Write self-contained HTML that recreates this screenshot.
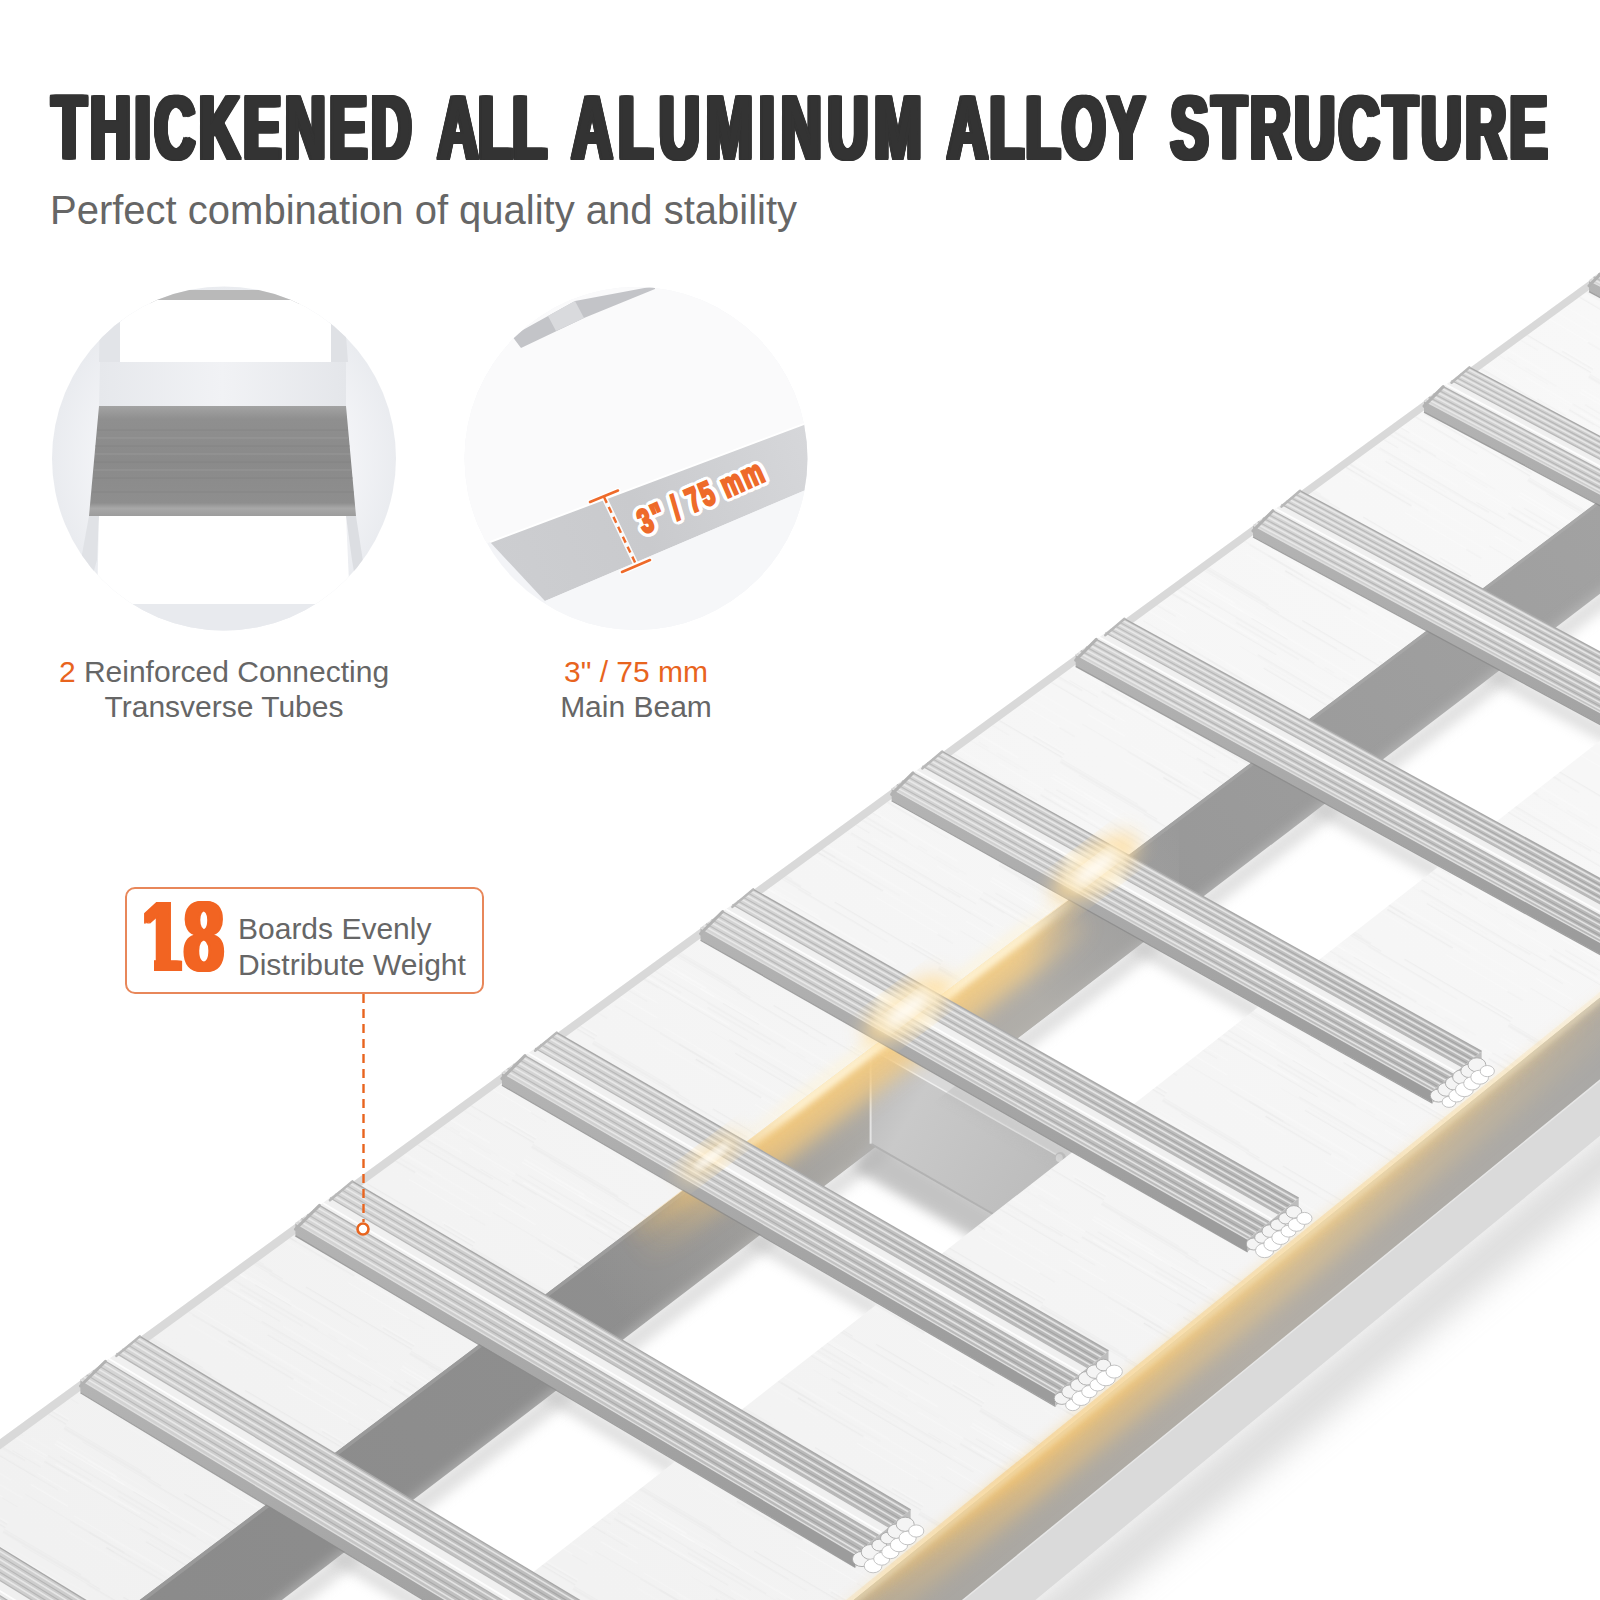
<!DOCTYPE html>
<html><head><meta charset="utf-8"><title>Thickened All Aluminum Alloy Structure</title>
<style>
html,body{margin:0;padding:0;background:#fff;}
body{width:1600px;height:1600px;position:relative;overflow:hidden;font-family:"Liberation Sans",sans-serif;}
svg{position:absolute;left:0;top:0;}
.t{position:absolute;white-space:nowrap;}
#title{left:52px;top:78px;font-weight:bold;font-size:90px;line-height:100px;color:#333;transform-origin:0 0;transform:scaleX(0.6207);letter-spacing:5.5px;word-spacing:10px;text-shadow:4.5px 0.9px #333,4.5px 0px #333,4.5px -0.9px #333,2.25px 0.9px #333,2.25px 0px #333,2.25px -0.9px #333,0px 0.9px #333,0px -0.9px #333,-2.25px 0.9px #333,-2.25px 0px #333,-2.25px -0.9px #333,-4.5px 0.9px #333,-4.5px 0px #333,-4.5px -0.9px #333;}
#sub{left:50px;top:186px;font-size:40px;line-height:48px;color:#666;}
.lab{font-size:30px;line-height:35px;color:#666;text-align:center;}
.o{color:#e8641e;}
#box{position:absolute;left:125px;top:887px;width:355px;height:103px;border:2.5px solid #e8875a;border-radius:10px;background:#fff;}
#n18{left:141.5px;top:884px;font-weight:bold;font-size:101px;line-height:104px;color:#f26422;transform-origin:0 0;transform:scaleX(0.70);letter-spacing:4px;text-shadow:4px 0 #f26422,2px 0 #f26422,-2px 0 #f26422,-4px 0 #f26422;}
#dim{left:644px;top:505.2px;font-weight:bold;font-size:34px;line-height:34px;letter-spacing:2.5px;color:#ee6a2a;-webkit-text-stroke:2.6px #ee6a2a;transform-origin:0 28.8px;transform:rotate(-23.6deg) scaleX(0.69);text-shadow:6.67px 0.00px #fff,6.34px 1.42px #fff,5.39px 2.70px #fff,3.92px 3.72px #fff,2.06px 4.37px #fff,0.00px 4.60px #fff,-2.06px 4.37px #fff,-3.92px 3.72px #fff,-5.39px 2.70px #fff,-6.34px 1.42px #fff,-6.67px 0.00px #fff,-6.34px -1.42px #fff,-5.39px -2.70px #fff,-3.92px -3.72px #fff,-2.06px -4.37px #fff,-0.00px -4.60px #fff,2.06px -4.37px #fff,3.92px -3.72px #fff,5.39px -2.70px #fff,6.34px -1.42px #fff,3.77px 0.00px #fff,3.05px 1.53px #fff,1.16px 2.47px #fff,-1.16px 2.47px #fff,-3.05px 1.53px #fff,-3.77px 0.00px #fff,-3.05px -1.53px #fff,-1.16px -2.47px #fff,1.16px -2.47px #fff,3.05px -1.53px #fff;}
#b18{left:238px;top:911px;font-size:30px;line-height:35.5px;color:#666;}
</style></head><body>
<svg width="1600" height="1600" viewBox="0 0 1600 1600">

<defs>
<linearGradient id="gTopL" gradientUnits="userSpaceOnUse" x1="0" y1="1500" x2="1600" y2="300"><stop offset="0" stop-color="#f1f1f1"/><stop offset="0.5" stop-color="#f5f5f5"/><stop offset="1" stop-color="#f8f8f8"/></linearGradient>
<linearGradient id="gTopR" gradientUnits="userSpaceOnUse" x1="600" y1="1600" x2="1600" y2="800"><stop offset="0" stop-color="#f2f2f2"/><stop offset="1" stop-color="#f7f7f7"/></linearGradient>
<linearGradient id="gIn" gradientUnits="userSpaceOnUse" x1="0" y1="1600" x2="1600" y2="500"><stop offset="0" stop-color="#8a8a8a"/><stop offset="0.45" stop-color="#909090"/><stop offset="1" stop-color="#a2a2a2"/></linearGradient>
<linearGradient id="gOut" gradientUnits="userSpaceOnUse" x1="850" y1="1600" x2="1600" y2="1000"><stop offset="0" stop-color="#a7a5a1"/><stop offset="0.5" stop-color="#b3aea6"/><stop offset="1" stop-color="#a9a8a6"/></linearGradient>
<linearGradient id="gGlowR" gradientUnits="userSpaceOnUse" x1="850" y1="1600" x2="1600" y2="1000"><stop offset="0" stop-color="#f3c473" stop-opacity="0.3"/><stop offset="0.22" stop-color="#f3c473" stop-opacity="1"/><stop offset="0.6" stop-color="#f4cd86" stop-opacity="0.8"/><stop offset="1" stop-color="#f4cd86" stop-opacity="0.15"/></linearGradient>
<linearGradient id="gBar" gradientUnits="userSpaceOnUse" x1="500" y1="1075" x2="807" y2="1496"><stop offset="0" stop-color="#d5d5d5"/><stop offset="0.45" stop-color="#c9c9c9"/><stop offset="1" stop-color="#b8b8b8"/></linearGradient>
<linearGradient id="gBarS" gradientUnits="userSpaceOnUse" x1="500" y1="1075" x2="807" y2="1496"><stop offset="0" stop-color="#b4b4b4"/><stop offset="1" stop-color="#9c9c9c"/></linearGradient>
<linearGradient id="gGrv" gradientUnits="userSpaceOnUse" x1="500" y1="1075" x2="807" y2="1496"><stop offset="0" stop-color="#bcbcbc"/><stop offset="1" stop-color="#a4a4a4"/></linearGradient>
<filter id="b3" x="-20%" y="-20%" width="140%" height="140%"><feGaussianBlur stdDeviation="3"/></filter>
<filter id="b6" x="-20%" y="-20%" width="140%" height="140%"><feGaussianBlur stdDeviation="6"/></filter>
<filter id="b10" x="-20%" y="-20%" width="140%" height="140%"><feGaussianBlur stdDeviation="10"/></filter>
<filter id="b16" x="-30%" y="-30%" width="160%" height="160%"><feGaussianBlur stdDeviation="16"/></filter>
</defs>
<polygon points="179.5,2303.7 2354.2,515.8 2354.2,566.1 179.5,2366.9" fill="#bdbdbd" filter="url(#b16)" opacity="0.55"/>
<polygon points="179.5,2143.7 2354.2,388.4 2354.2,464.7 179.5,2239.5" fill="url(#gOut)" />
<polygon points="179.5,2239.5 2354.2,464.7 2354.2,515.8 179.5,2303.7" fill="#dadada" />
<line x1="179.5" y1="2239.5" x2="2354.2" y2="464.7" stroke="#e6e6e6" stroke-width="1.50" />
<polygon points="-234.5,1881.5 1992.9,203.7 1992.9,293.7 -234.5,1994.3" fill="url(#gIn)" />
<polygon points="-234.5,1881.5 1992.9,203.7 1992.9,207.8 -234.5,1886.7" fill="#b4b4b4" opacity="0.35"/>
<polygon points="-234.5,1990.1 1992.9,290.4 1992.9,311.9 -234.5,2017.0" fill="#c8c8c8" filter="url(#b6)" opacity="0.55"/>
<linearGradient id="gLit" gradientUnits="userSpaceOnUse" x1="582" y1="1266" x2="1179" y2="817"><stop offset="0" stop-color="#b6b3ad" stop-opacity="0"/><stop offset="0.45" stop-color="#b6b3ad" stop-opacity="0.8"/><stop offset="0.7" stop-color="#b6b3ad" stop-opacity="0.8"/><stop offset="1" stop-color="#b0b0b0" stop-opacity="0"/></linearGradient>
<polygon points="582.2,1266.3 1179.1,816.7 1179.1,915.0 582.2,1370.7" fill="url(#gLit)" />
<polygon points="872.3,1137.2 1065.0,1247.7 1045.9,1279.7 852.9,1168.7" fill="#b0b0b0" filter="url(#b6)" opacity="0.75"/>
<linearGradient id="gTube" gradientUnits="userSpaceOnUse" x1="871" y1="1049" x2="1065" y2="1160"><stop offset="0" stop-color="#b6b6b6"/><stop offset="0.3" stop-color="#c9c9c9"/><stop offset="1" stop-color="#bcbcbc"/></linearGradient>
<polygon points="870.6,1048.7 1065.0,1159.6 1065.0,1255.3 870.6,1143.7" fill="url(#gTube)" />
<line x1="870.6" y1="1143.7" x2="1065.0" y2="1255.3" stroke="#b2b2b2" stroke-width="2.00" />
<line x1="870.6" y1="1048.7" x2="870.6" y2="1143.7" stroke="#e4e4e4" stroke-width="2.00" />
<polygon points="870.6,1048.7 1065.0,1159.6 1076.5,1150.6 882.2,1040.0" fill="#d9d9d9" />
<line x1="870.6" y1="1048.7" x2="1065.0" y2="1159.6" stroke="#efefef" stroke-width="1.50" />
<ellipse cx="1060.3" cy="1159.9" rx="6" ry="8" fill="#bdbdbd"/>
<ellipse cx="1059.3" cy="1157.9" rx="3.5" ry="4" fill="#dcdcdc"/>
<polygon points="-433.8,1755.3 1818.0,114.2 1992.9,203.7 -234.5,1881.5" fill="url(#gTopL)" />
<polygon points="-433.8,1755.3 1818.0,114.2 1825.0,117.8 -425.9,1760.3" fill="#d9d9d9" />
<polygon points="-29.9,2011.1 2171.7,295.1 2354.2,388.4 179.5,2143.7" fill="url(#gTopR)" />
<pattern id="brush" width="260" height="120" patternUnits="userSpaceOnUse" patternTransform="rotate(30.5)"><line x1="128" y1="54.3" x2="288" y2="54.3" stroke="#d8d8d8" stroke-width="1.1" opacity="0.29"/><line x1="201" y1="22.8" x2="303" y2="22.8" stroke="#d2d2d2" stroke-width="1.3" opacity="0.14"/><line x1="-13" y1="36.4" x2="132" y2="36.4" stroke="#dedede" stroke-width="1.2" opacity="0.24"/><line x1="96" y1="47.5" x2="232" y2="47.5" stroke="#dedede" stroke-width="0.8" opacity="0.12"/><line x1="-22" y1="63.4" x2="43" y2="63.4" stroke="#fff" stroke-width="1.2" opacity="0.28"/><line x1="137" y1="39.2" x2="203" y2="39.2" stroke="#fff" stroke-width="1.2" opacity="0.22"/><line x1="97" y1="79.5" x2="173" y2="79.5" stroke="#d2d2d2" stroke-width="1.5" opacity="0.29"/><line x1="55" y1="84.9" x2="124" y2="84.9" stroke="#fff" stroke-width="0.7" opacity="0.23"/><line x1="-8" y1="13.0" x2="70" y2="13.0" stroke="#fff" stroke-width="1.5" opacity="0.29"/><line x1="23" y1="0.1" x2="181" y2="0.1" stroke="#d8d8d8" stroke-width="1.0" opacity="0.26"/><line x1="130" y1="50.4" x2="196" y2="50.4" stroke="#dedede" stroke-width="0.9" opacity="0.14"/><line x1="249" y1="39.9" x2="388" y2="39.9" stroke="#fff" stroke-width="0.8" opacity="0.26"/><line x1="99" y1="1.3" x2="203" y2="1.3" stroke="#dedede" stroke-width="1.1" opacity="0.21"/><line x1="180" y1="22.9" x2="237" y2="22.9" stroke="#dedede" stroke-width="1.0" opacity="0.20"/><line x1="-40" y1="118.8" x2="113" y2="118.8" stroke="#d2d2d2" stroke-width="0.9" opacity="0.30"/><line x1="78" y1="25.3" x2="229" y2="25.3" stroke="#dedede" stroke-width="1.2" opacity="0.13"/><line x1="92" y1="17.6" x2="134" y2="17.6" stroke="#d2d2d2" stroke-width="1.0" opacity="0.18"/><line x1="-13" y1="8.8" x2="103" y2="8.8" stroke="#fff" stroke-width="0.7" opacity="0.19"/><line x1="-2" y1="74.7" x2="115" y2="74.7" stroke="#d2d2d2" stroke-width="0.8" opacity="0.20"/><line x1="53" y1="75.3" x2="123" y2="75.3" stroke="#d2d2d2" stroke-width="0.9" opacity="0.16"/><line x1="242" y1="88.7" x2="308" y2="88.7" stroke="#d8d8d8" stroke-width="1.4" opacity="0.24"/><line x1="-9" y1="50.6" x2="36" y2="50.6" stroke="#fff" stroke-width="0.9" opacity="0.26"/><line x1="207" y1="30.8" x2="325" y2="30.8" stroke="#fff" stroke-width="1.1" opacity="0.31"/><line x1="-2" y1="117.3" x2="100" y2="117.3" stroke="#dedede" stroke-width="1.4" opacity="0.24"/><line x1="235" y1="33.6" x2="302" y2="33.6" stroke="#fff" stroke-width="0.8" opacity="0.20"/><line x1="-26" y1="29.9" x2="51" y2="29.9" stroke="#d2d2d2" stroke-width="1.2" opacity="0.15"/><line x1="227" y1="43.5" x2="395" y2="43.5" stroke="#dedede" stroke-width="1.3" opacity="0.22"/><line x1="137" y1="113.6" x2="297" y2="113.6" stroke="#d8d8d8" stroke-width="1.4" opacity="0.26"/><line x1="-34" y1="115.5" x2="89" y2="115.5" stroke="#d8d8d8" stroke-width="0.8" opacity="0.18"/><line x1="-18" y1="16.4" x2="81" y2="16.4" stroke="#fff" stroke-width="1.3" opacity="0.30"/><line x1="171" y1="88.5" x2="314" y2="88.5" stroke="#fff" stroke-width="1.0" opacity="0.26"/><line x1="221" y1="108.1" x2="316" y2="108.1" stroke="#fff" stroke-width="1.4" opacity="0.23"/><line x1="75" y1="75.0" x2="190" y2="75.0" stroke="#d2d2d2" stroke-width="0.8" opacity="0.14"/><line x1="37" y1="13.9" x2="131" y2="13.9" stroke="#fff" stroke-width="1.0" opacity="0.27"/><line x1="92" y1="69.7" x2="241" y2="69.7" stroke="#fff" stroke-width="1.1" opacity="0.22"/><line x1="-14" y1="37.2" x2="29" y2="37.2" stroke="#dedede" stroke-width="0.8" opacity="0.28"/><line x1="106" y1="79.2" x2="262" y2="79.2" stroke="#fff" stroke-width="0.9" opacity="0.26"/><line x1="11" y1="24.3" x2="169" y2="24.3" stroke="#dedede" stroke-width="1.4" opacity="0.22"/><line x1="81" y1="29.0" x2="154" y2="29.0" stroke="#dedede" stroke-width="1.0" opacity="0.28"/><line x1="224" y1="109.7" x2="314" y2="109.7" stroke="#d2d2d2" stroke-width="1.4" opacity="0.16"/><line x1="65" y1="16.1" x2="222" y2="16.1" stroke="#fff" stroke-width="1.3" opacity="0.31"/><line x1="11" y1="33.2" x2="109" y2="33.2" stroke="#fff" stroke-width="1.4" opacity="0.29"/><line x1="116" y1="45.9" x2="243" y2="45.9" stroke="#dedede" stroke-width="1.4" opacity="0.32"/><line x1="-18" y1="54.3" x2="26" y2="54.3" stroke="#d2d2d2" stroke-width="0.7" opacity="0.26"/><line x1="53" y1="68.5" x2="196" y2="68.5" stroke="#fff" stroke-width="1.2" opacity="0.20"/><line x1="191" y1="22.8" x2="265" y2="22.8" stroke="#fff" stroke-width="1.3" opacity="0.32"/></pattern>
<polygon points="-425.9,1760.3 1825.0,117.8 1992.9,203.7 -234.5,1881.5" fill="url(#brush)" />
<polygon points="-29.9,2011.1 2171.7,295.1 2354.2,388.4 179.5,2143.7" fill="url(#brush)" />
<clipPath id="cOut"><polygon points="179.5,2137.4 2354.2,383.4 2354.2,464.7 179.5,2239.5" fill="#000" /></clipPath>
<g clip-path="url(#cOut)"><line x1="774.8" y1="1683.1" x2="1869.3" y2="797.5" stroke="url(#gGlowR)" stroke-width="44.00" filter="url(#b10)" opacity="0.6"/><line x1="774.8" y1="1670.2" x2="1869.3" y2="786.0" stroke="url(#gGlowR)" stroke-width="14.00" filter="url(#b6)" opacity="0.85"/></g>
<line x1="774.8" y1="1662.3" x2="1869.3" y2="778.9" stroke="url(#gGlowR)" stroke-width="8.00" filter="url(#b6)" opacity="0.5"/>
<line x1="836.8" y1="1614.6" x2="1769.0" y2="862.1" stroke="#fff3cf" stroke-width="3.50" filter="url(#b3)" opacity="0.95"/>
<linearGradient id="gGlowL" gradientUnits="userSpaceOnUse" x1="623" y1="1236" x2="1078" y2="893"><stop offset="0" stop-color="#f1c06c" stop-opacity="0"/><stop offset="0.3" stop-color="#f2c87e" stop-opacity="1"/><stop offset="0.85" stop-color="#f3cd88" stop-opacity="1"/><stop offset="1" stop-color="#f3cd88" stop-opacity="0"/></linearGradient>
<linearGradient id="gGlowW" gradientUnits="userSpaceOnUse" x1="703" y1="1175" x2="1078" y2="893"><stop offset="0" stop-color="#fff4d6" stop-opacity="0"/><stop offset="0.25" stop-color="#fff4d6" stop-opacity="1"/><stop offset="0.85" stop-color="#fff4d6" stop-opacity="1"/><stop offset="1" stop-color="#fff4d6" stop-opacity="0"/></linearGradient>
<clipPath id="cIn"><polygon points="-234.5,1880.5 1992.9,202.8 1992.9,293.7 -234.5,1994.3" fill="#000" /></clipPath>
<g clip-path="url(#cIn)"><line x1="622.9" y1="1254.7" x2="1078.3" y2="910.8" stroke="url(#gGlowL)" stroke-width="46.00" filter="url(#b10)" opacity="0.85"/><line x1="622.9" y1="1243.3" x2="1078.3" y2="899.9" stroke="url(#gGlowL)" stroke-width="18.00" filter="url(#b6)" opacity="0.9"/><line x1="713.4" y1="1170.3" x2="1069.1" y2="902.3" stroke="url(#gGlowW)" stroke-width="9.00" filter="url(#b3)" opacity="0.95"/></g>
<line x1="743.2" y1="1140.3" x2="1065.4" y2="897.8" stroke="url(#gGlowW)" stroke-width="10.00" filter="url(#b6)" opacity="0.7"/>
<clipPath id="cFloor"><polygon points="-234.5,1994.3 1992.9,293.7 2171.7,295.1 -29.9,2011.1" fill="#000" /></clipPath>
<g clip-path="url(#cFloor)"><g filter="url(#b6)" opacity="0.45"><line x1="44.3" y1="1679.6" x2="246.1" y2="1804.1" stroke="#b8b8b8" stroke-width="16.00" /><line x1="266.1" y1="1512.3" x2="465.6" y2="1632.9" stroke="#b8b8b8" stroke-width="16.00" /><line x1="479.0" y1="1351.8" x2="676.1" y2="1468.6" stroke="#b8b8b8" stroke-width="16.00" /><line x1="683.4" y1="1197.7" x2="878.4" y2="1310.8" stroke="#b8b8b8" stroke-width="16.00" /><line x1="880.0" y1="1049.4" x2="1072.7" y2="1159.2" stroke="#b8b8b8" stroke-width="16.00" /><line x1="1069.1" y1="906.9" x2="1259.5" y2="1013.4" stroke="#b8b8b8" stroke-width="16.00" /><line x1="1251.1" y1="769.6" x2="1439.4" y2="873.1" stroke="#b8b8b8" stroke-width="16.00" /><line x1="1426.5" y1="637.3" x2="1612.6" y2="738.0" stroke="#b8b8b8" stroke-width="16.00" /><line x1="1595.6" y1="509.8" x2="1779.6" y2="607.7" stroke="#b8b8b8" stroke-width="16.00" /><line x1="1758.7" y1="386.8" x2="1940.6" y2="482.1" stroke="#b8b8b8" stroke-width="16.00" /></g></g>
<linearGradient id="gSide" x1="0" y1="0" x2="0" y2="1"><stop offset="0" stop-color="#c6c6c6"/><stop offset="1" stop-color="#a3a3a3"/></linearGradient>
<g><polygon points="1589.0,280.3 2105.7,550.4 2105.7,561.6 1589.0,291.3" fill="url(#gBarS)" /><line x1="1589.0" y1="291.7" x2="2105.7" y2="562.0" stroke="#8c8c8c" stroke-width="1.30" opacity="0.8"/><polygon points="1589.0,280.3 2105.7,550.4 2123.5,536.1 1607.5,266.8" fill="url(#gBar)" /><polygon points="1607.5,266.8 2123.5,536.1 2131.3,529.8 1615.6,260.9" fill="#f0f0f0" /><polygon points="1615.6,260.9 2131.3,529.8 2148.0,516.5 1632.9,248.3" fill="url(#gBar)" /><line x1="1591.6" y1="278.4" x2="2108.1" y2="548.5" stroke="#ededed" stroke-width="1.60" opacity="0.8"/><line x1="1593.6" y1="276.9" x2="2110.2" y2="546.8" stroke="url(#gGrv)" stroke-width="1.20" /><line x1="1596.2" y1="275.1" x2="2112.6" y2="544.9" stroke="#ededed" stroke-width="1.60" opacity="0.8"/><line x1="1598.3" y1="273.5" x2="2114.6" y2="543.3" stroke="url(#gGrv)" stroke-width="1.20" /><line x1="1600.8" y1="271.7" x2="2117.1" y2="541.3" stroke="#ededed" stroke-width="1.60" opacity="0.8"/><line x1="1602.9" y1="270.2" x2="2119.1" y2="539.7" stroke="url(#gGrv)" stroke-width="1.20" /><line x1="1605.5" y1="268.3" x2="2121.5" y2="537.7" stroke="#ededed" stroke-width="1.60" opacity="0.8"/><line x1="1618.0" y1="259.2" x2="2133.6" y2="528.0" stroke="#ededed" stroke-width="1.60" opacity="0.8"/><line x1="1619.9" y1="257.8" x2="2135.5" y2="526.5" stroke="url(#gGrv)" stroke-width="1.20" /><line x1="1622.3" y1="256.0" x2="2137.8" y2="524.7" stroke="#ededed" stroke-width="1.60" opacity="0.8"/><line x1="1624.3" y1="254.6" x2="2139.7" y2="523.2" stroke="url(#gGrv)" stroke-width="1.20" /><line x1="1626.6" y1="252.9" x2="2141.9" y2="521.3" stroke="#ededed" stroke-width="1.60" opacity="0.8"/><line x1="1628.6" y1="251.5" x2="2143.8" y2="519.8" stroke="url(#gGrv)" stroke-width="1.20" /><line x1="1631.0" y1="249.7" x2="2146.1" y2="518.0" stroke="#ededed" stroke-width="1.60" opacity="0.8"/><line x1="1632.9" y1="248.3" x2="2148.0" y2="516.5" stroke="#a9a9a9" stroke-width="1.40" /><line x1="1589.0" y1="280.3" x2="2105.7" y2="550.4" stroke="#dedede" stroke-width="1.40" /><line x1="1607.5" y1="266.8" x2="2123.5" y2="536.1" stroke="#b0b0b0" stroke-width="1.30" /><line x1="1615.6" y1="260.9" x2="2131.3" y2="529.8" stroke="#b8b8b8" stroke-width="1.30" /><line x1="1610.1" y1="264.9" x2="2126.0" y2="534.1" stroke="#ffffff" stroke-width="1.80" opacity="0.9"/><line x1="1589.0" y1="285.8" x2="1607.5" y2="266.8" stroke="#b2b2b2" stroke-width="3.00" stroke-linecap="round"/><line x1="1615.6" y1="263.1" x2="1632.9" y2="248.3" stroke="#b8b8b8" stroke-width="2.50" stroke-linecap="round"/><polygon points="2105.7,561.6 2148.0,525.4 2148.0,516.5 2105.7,550.4" fill="#bdbdbd" /><ellipse cx="2111.1" cy="555.0" rx="7.3" ry="5.8" fill="#f4f4f4" stroke="#a8a8a8" stroke-width="0.9"/><ellipse cx="2117.7" cy="549.7" rx="7.2" ry="5.7" fill="#f4f4f4" stroke="#a8a8a8" stroke-width="0.9"/><ellipse cx="2124.4" cy="544.4" rx="6.7" ry="5.3" fill="#f4f4f4" stroke="#a8a8a8" stroke-width="0.9"/><ellipse cx="2131.0" cy="539.0" rx="8.2" ry="6.5" fill="#f4f4f4" stroke="#a8a8a8" stroke-width="0.9"/><ellipse cx="2137.6" cy="533.7" rx="6.4" ry="5.1" fill="#f4f4f4" stroke="#a8a8a8" stroke-width="0.9"/><ellipse cx="2144.2" cy="528.4" rx="7.4" ry="5.9" fill="#f4f4f4" stroke="#a8a8a8" stroke-width="0.9"/><ellipse cx="2120.8" cy="560.9" rx="8.2" ry="6.5" fill="#ffffff" stroke="#bdbdbd" stroke-width="0.9"/><ellipse cx="2127.4" cy="555.6" rx="6.6" ry="5.2" fill="#ffffff" stroke="#bdbdbd" stroke-width="0.9"/><ellipse cx="2134.0" cy="550.3" rx="7.5" ry="6.0" fill="#ffffff" stroke="#bdbdbd" stroke-width="0.9"/><ellipse cx="2140.7" cy="544.9" rx="7.6" ry="6.1" fill="#ffffff" stroke="#bdbdbd" stroke-width="0.9"/><ellipse cx="2147.2" cy="539.6" rx="6.5" ry="5.1" fill="#ffffff" stroke="#bdbdbd" stroke-width="0.9"/><ellipse cx="2153.8" cy="534.3" rx="7.1" ry="5.7" fill="#ffffff" stroke="#bdbdbd" stroke-width="0.9"/></g>
<g><polygon points="1424.0,400.6 1946.6,678.1 1946.6,689.5 1424.0,411.7" fill="url(#gBarS)" /><line x1="1424.0" y1="412.1" x2="1946.6" y2="690.0" stroke="#8c8c8c" stroke-width="1.30" opacity="0.8"/><polygon points="1424.0,400.6 1946.6,678.1 1965.1,663.3 1443.2,386.6" fill="url(#gBar)" /><polygon points="1443.2,386.6 1965.1,663.3 1973.2,656.8 1451.5,380.5" fill="#f0f0f0" /><polygon points="1451.5,380.5 1973.2,656.8 1990.4,642.9 1469.4,367.4" fill="url(#gBar)" /><line x1="1426.6" y1="398.6" x2="1949.1" y2="676.1" stroke="#ededed" stroke-width="1.60" opacity="0.8"/><line x1="1428.8" y1="397.1" x2="1951.2" y2="674.4" stroke="url(#gGrv)" stroke-width="1.20" /><line x1="1431.4" y1="395.1" x2="1953.8" y2="672.4" stroke="#ededed" stroke-width="1.60" opacity="0.8"/><line x1="1433.6" y1="393.6" x2="1955.9" y2="670.7" stroke="url(#gGrv)" stroke-width="1.20" /><line x1="1436.2" y1="391.6" x2="1958.4" y2="668.7" stroke="#ededed" stroke-width="1.60" opacity="0.8"/><line x1="1438.4" y1="390.1" x2="1960.5" y2="667.0" stroke="url(#gGrv)" stroke-width="1.20" /><line x1="1441.0" y1="388.1" x2="1963.0" y2="664.9" stroke="#ededed" stroke-width="1.60" opacity="0.8"/><line x1="1454.0" y1="378.7" x2="1975.5" y2="654.9" stroke="#ededed" stroke-width="1.60" opacity="0.8"/><line x1="1456.0" y1="377.2" x2="1977.5" y2="653.3" stroke="url(#gGrv)" stroke-width="1.20" /><line x1="1458.5" y1="375.4" x2="1979.9" y2="651.4" stroke="#ededed" stroke-width="1.60" opacity="0.8"/><line x1="1460.5" y1="373.9" x2="1981.8" y2="649.9" stroke="url(#gGrv)" stroke-width="1.20" /><line x1="1463.0" y1="372.1" x2="1984.2" y2="648.0" stroke="#ededed" stroke-width="1.60" opacity="0.8"/><line x1="1465.0" y1="370.7" x2="1986.1" y2="646.4" stroke="url(#gGrv)" stroke-width="1.20" /><line x1="1467.4" y1="368.9" x2="1988.5" y2="644.5" stroke="#ededed" stroke-width="1.60" opacity="0.8"/><line x1="1469.4" y1="367.4" x2="1990.4" y2="642.9" stroke="#a9a9a9" stroke-width="1.40" /><line x1="1424.0" y1="400.6" x2="1946.6" y2="678.1" stroke="#dedede" stroke-width="1.40" /><line x1="1443.2" y1="386.6" x2="1965.1" y2="663.3" stroke="#b0b0b0" stroke-width="1.30" /><line x1="1451.5" y1="380.5" x2="1973.2" y2="656.8" stroke="#b8b8b8" stroke-width="1.30" /><line x1="1445.9" y1="384.6" x2="1967.7" y2="661.2" stroke="#ffffff" stroke-width="1.80" opacity="0.9"/><line x1="1424.0" y1="406.1" x2="1443.2" y2="386.6" stroke="#b2b2b2" stroke-width="3.00" stroke-linecap="round"/><line x1="1451.5" y1="382.7" x2="1469.4" y2="367.4" stroke="#b8b8b8" stroke-width="2.50" stroke-linecap="round"/><polygon points="1946.6,689.5 1990.4,652.0 1990.4,642.9 1946.6,678.1" fill="#bdbdbd" /><ellipse cx="1952.2" cy="682.8" rx="7.0" ry="5.5" fill="#f4f4f4" stroke="#a8a8a8" stroke-width="0.9"/><ellipse cx="1959.0" cy="677.2" rx="8.5" ry="6.7" fill="#f4f4f4" stroke="#a8a8a8" stroke-width="0.9"/><ellipse cx="1965.9" cy="671.7" rx="6.8" ry="5.4" fill="#f4f4f4" stroke="#a8a8a8" stroke-width="0.9"/><ellipse cx="1972.8" cy="666.2" rx="8.0" ry="6.3" fill="#f4f4f4" stroke="#a8a8a8" stroke-width="0.9"/><ellipse cx="1979.6" cy="660.7" rx="6.7" ry="5.3" fill="#f4f4f4" stroke="#a8a8a8" stroke-width="0.9"/><ellipse cx="1986.4" cy="655.2" rx="7.0" ry="5.5" fill="#f4f4f4" stroke="#a8a8a8" stroke-width="0.9"/><ellipse cx="1962.0" cy="688.8" rx="8.6" ry="6.8" fill="#ffffff" stroke="#bdbdbd" stroke-width="0.9"/><ellipse cx="1968.9" cy="683.2" rx="6.9" ry="5.5" fill="#ffffff" stroke="#bdbdbd" stroke-width="0.9"/><ellipse cx="1975.8" cy="677.7" rx="7.8" ry="6.2" fill="#ffffff" stroke="#bdbdbd" stroke-width="0.9"/><ellipse cx="1982.6" cy="672.2" rx="7.5" ry="5.9" fill="#ffffff" stroke="#bdbdbd" stroke-width="0.9"/><ellipse cx="1989.4" cy="666.7" rx="7.4" ry="5.9" fill="#ffffff" stroke="#bdbdbd" stroke-width="0.9"/><ellipse cx="1996.3" cy="661.2" rx="7.5" ry="6.0" fill="#ffffff" stroke="#bdbdbd" stroke-width="0.9"/></g>
<g><polygon points="1253.0,525.2 1781.6,810.6 1781.6,822.2 1253.0,536.5" fill="url(#gBarS)" /><line x1="1253.0" y1="537.0" x2="1781.6" y2="822.6" stroke="#8c8c8c" stroke-width="1.30" opacity="0.8"/><polygon points="1253.0,525.2 1781.6,810.6 1800.8,795.2 1272.9,510.7" fill="url(#gBar)" /><polygon points="1272.9,510.7 1800.8,795.2 1809.2,788.5 1281.5,504.4" fill="#f0f0f0" /><polygon points="1281.5,504.4 1809.2,788.5 1827.1,774.1 1300.1,490.8" fill="url(#gBar)" /><line x1="1255.7" y1="523.2" x2="1784.2" y2="808.5" stroke="#ededed" stroke-width="1.60" opacity="0.8"/><line x1="1257.9" y1="521.5" x2="1786.4" y2="806.7" stroke="url(#gGrv)" stroke-width="1.20" /><line x1="1260.7" y1="519.6" x2="1789.0" y2="804.6" stroke="#ededed" stroke-width="1.60" opacity="0.8"/><line x1="1262.9" y1="517.9" x2="1791.2" y2="802.9" stroke="url(#gGrv)" stroke-width="1.20" /><line x1="1265.7" y1="515.9" x2="1793.8" y2="800.7" stroke="#ededed" stroke-width="1.60" opacity="0.8"/><line x1="1267.9" y1="514.3" x2="1796.0" y2="799.0" stroke="url(#gGrv)" stroke-width="1.20" /><line x1="1270.6" y1="512.3" x2="1798.6" y2="796.9" stroke="#ededed" stroke-width="1.60" opacity="0.8"/><line x1="1284.1" y1="502.5" x2="1811.6" y2="786.5" stroke="#ededed" stroke-width="1.60" opacity="0.8"/><line x1="1286.2" y1="501.0" x2="1813.7" y2="784.9" stroke="url(#gGrv)" stroke-width="1.20" /><line x1="1288.7" y1="499.1" x2="1816.1" y2="782.9" stroke="#ededed" stroke-width="1.60" opacity="0.8"/><line x1="1290.8" y1="497.6" x2="1818.1" y2="781.3" stroke="url(#gGrv)" stroke-width="1.20" /><line x1="1293.4" y1="495.7" x2="1820.6" y2="779.3" stroke="#ededed" stroke-width="1.60" opacity="0.8"/><line x1="1295.5" y1="494.2" x2="1822.6" y2="777.7" stroke="url(#gGrv)" stroke-width="1.20" /><line x1="1298.0" y1="492.4" x2="1825.1" y2="775.7" stroke="#ededed" stroke-width="1.60" opacity="0.8"/><line x1="1300.1" y1="490.8" x2="1827.1" y2="774.1" stroke="#a9a9a9" stroke-width="1.40" /><line x1="1253.0" y1="525.2" x2="1781.6" y2="810.6" stroke="#dedede" stroke-width="1.40" /><line x1="1272.9" y1="510.7" x2="1800.8" y2="795.2" stroke="#b0b0b0" stroke-width="1.30" /><line x1="1281.5" y1="504.4" x2="1809.2" y2="788.5" stroke="#b8b8b8" stroke-width="1.30" /><line x1="1275.6" y1="508.7" x2="1803.5" y2="793.0" stroke="#ffffff" stroke-width="1.80" opacity="0.9"/><line x1="1253.0" y1="530.9" x2="1272.9" y2="510.7" stroke="#b2b2b2" stroke-width="3.00" stroke-linecap="round"/><line x1="1281.5" y1="506.6" x2="1300.1" y2="490.8" stroke="#b8b8b8" stroke-width="2.50" stroke-linecap="round"/><polygon points="1781.6,822.2 1827.1,783.3 1827.1,774.1 1781.6,810.6" fill="#bdbdbd" /><ellipse cx="1787.3" cy="815.3" rx="7.3" ry="5.8" fill="#f4f4f4" stroke="#a8a8a8" stroke-width="0.9"/><ellipse cx="1794.5" cy="809.5" rx="6.9" ry="5.5" fill="#f4f4f4" stroke="#a8a8a8" stroke-width="0.9"/><ellipse cx="1801.6" cy="803.8" rx="8.0" ry="6.3" fill="#f4f4f4" stroke="#a8a8a8" stroke-width="0.9"/><ellipse cx="1808.7" cy="798.1" rx="6.8" ry="5.4" fill="#f4f4f4" stroke="#a8a8a8" stroke-width="0.9"/><ellipse cx="1815.8" cy="792.4" rx="7.8" ry="6.1" fill="#f4f4f4" stroke="#a8a8a8" stroke-width="0.9"/><ellipse cx="1822.9" cy="786.7" rx="7.4" ry="5.8" fill="#f4f4f4" stroke="#a8a8a8" stroke-width="0.9"/><ellipse cx="1797.4" cy="821.4" rx="6.8" ry="5.3" fill="#ffffff" stroke="#bdbdbd" stroke-width="0.9"/><ellipse cx="1804.5" cy="815.7" rx="7.7" ry="6.1" fill="#ffffff" stroke="#bdbdbd" stroke-width="0.9"/><ellipse cx="1811.6" cy="809.9" rx="6.7" ry="5.3" fill="#ffffff" stroke="#bdbdbd" stroke-width="0.9"/><ellipse cx="1818.7" cy="804.2" rx="7.5" ry="6.0" fill="#ffffff" stroke="#bdbdbd" stroke-width="0.9"/><ellipse cx="1825.8" cy="798.5" rx="6.8" ry="5.3" fill="#ffffff" stroke="#bdbdbd" stroke-width="0.9"/><ellipse cx="1832.9" cy="792.8" rx="6.8" ry="5.4" fill="#ffffff" stroke="#bdbdbd" stroke-width="0.9"/></g>
<g><polygon points="1075.6,654.4 1610.4,948.0 1610.4,959.8 1075.6,666.0" fill="url(#gBarS)" /><line x1="1075.6" y1="666.4" x2="1610.4" y2="960.3" stroke="#8c8c8c" stroke-width="1.30" opacity="0.8"/><polygon points="1075.6,654.4 1610.4,948.0 1630.3,932.0 1096.3,639.4" fill="url(#gBar)" /><polygon points="1096.3,639.4 1630.3,932.0 1639.0,925.1 1105.3,632.8" fill="#f0f0f0" /><polygon points="1105.3,632.8 1639.0,925.1 1657.6,910.1 1124.5,618.8" fill="url(#gBar)" /><line x1="1078.5" y1="652.3" x2="1613.1" y2="945.8" stroke="#ededed" stroke-width="1.60" opacity="0.8"/><line x1="1080.8" y1="650.6" x2="1615.4" y2="944.0" stroke="url(#gGrv)" stroke-width="1.20" /><line x1="1083.6" y1="648.6" x2="1618.1" y2="941.8" stroke="#ededed" stroke-width="1.60" opacity="0.8"/><line x1="1086.0" y1="646.9" x2="1620.3" y2="940.0" stroke="url(#gGrv)" stroke-width="1.20" /><line x1="1088.8" y1="644.8" x2="1623.1" y2="937.8" stroke="#ededed" stroke-width="1.60" opacity="0.8"/><line x1="1091.1" y1="643.1" x2="1625.3" y2="936.0" stroke="url(#gGrv)" stroke-width="1.20" /><line x1="1093.9" y1="641.1" x2="1628.1" y2="933.8" stroke="#ededed" stroke-width="1.60" opacity="0.8"/><line x1="1107.9" y1="630.9" x2="1641.5" y2="923.0" stroke="#ededed" stroke-width="1.60" opacity="0.8"/><line x1="1110.1" y1="629.3" x2="1643.6" y2="921.3" stroke="url(#gGrv)" stroke-width="1.20" /><line x1="1112.7" y1="627.4" x2="1646.2" y2="919.3" stroke="#ededed" stroke-width="1.60" opacity="0.8"/><line x1="1114.9" y1="625.8" x2="1648.3" y2="917.6" stroke="url(#gGrv)" stroke-width="1.20" /><line x1="1117.5" y1="623.9" x2="1650.8" y2="915.5" stroke="#ededed" stroke-width="1.60" opacity="0.8"/><line x1="1119.7" y1="622.3" x2="1652.9" y2="913.9" stroke="url(#gGrv)" stroke-width="1.20" /><line x1="1122.3" y1="620.4" x2="1655.5" y2="911.8" stroke="#ededed" stroke-width="1.60" opacity="0.8"/><line x1="1124.5" y1="618.8" x2="1657.6" y2="910.1" stroke="#a9a9a9" stroke-width="1.40" /><line x1="1075.6" y1="654.4" x2="1610.4" y2="948.0" stroke="#dedede" stroke-width="1.40" /><line x1="1096.3" y1="639.4" x2="1630.3" y2="932.0" stroke="#b0b0b0" stroke-width="1.30" /><line x1="1105.3" y1="632.8" x2="1639.0" y2="925.1" stroke="#b8b8b8" stroke-width="1.30" /><line x1="1099.1" y1="637.3" x2="1633.1" y2="929.8" stroke="#ffffff" stroke-width="1.80" opacity="0.9"/><line x1="1075.6" y1="660.2" x2="1096.3" y2="639.4" stroke="#b2b2b2" stroke-width="3.00" stroke-linecap="round"/><line x1="1105.3" y1="635.1" x2="1124.5" y2="618.8" stroke="#b8b8b8" stroke-width="2.50" stroke-linecap="round"/><polygon points="1610.4,959.8 1657.6,919.5 1657.6,910.1 1610.4,948.0" fill="#bdbdbd" /><ellipse cx="1616.3" cy="952.8" rx="8.5" ry="6.7" fill="#f4f4f4" stroke="#a8a8a8" stroke-width="0.9"/><ellipse cx="1623.7" cy="946.8" rx="8.5" ry="6.8" fill="#f4f4f4" stroke="#a8a8a8" stroke-width="0.9"/><ellipse cx="1631.0" cy="940.9" rx="7.8" ry="6.2" fill="#f4f4f4" stroke="#a8a8a8" stroke-width="0.9"/><ellipse cx="1638.4" cy="934.9" rx="7.3" ry="5.8" fill="#f4f4f4" stroke="#a8a8a8" stroke-width="0.9"/><ellipse cx="1645.8" cy="929.0" rx="6.7" ry="5.3" fill="#f4f4f4" stroke="#a8a8a8" stroke-width="0.9"/><ellipse cx="1653.1" cy="923.1" rx="8.2" ry="6.5" fill="#f4f4f4" stroke="#a8a8a8" stroke-width="0.9"/><ellipse cx="1626.5" cy="959.0" rx="7.8" ry="6.2" fill="#ffffff" stroke="#bdbdbd" stroke-width="0.9"/><ellipse cx="1633.9" cy="953.1" rx="8.4" ry="6.7" fill="#ffffff" stroke="#bdbdbd" stroke-width="0.9"/><ellipse cx="1641.3" cy="947.1" rx="7.6" ry="6.0" fill="#ffffff" stroke="#bdbdbd" stroke-width="0.9"/><ellipse cx="1648.6" cy="941.2" rx="8.4" ry="6.7" fill="#ffffff" stroke="#bdbdbd" stroke-width="0.9"/><ellipse cx="1656.0" cy="935.2" rx="7.3" ry="5.8" fill="#ffffff" stroke="#bdbdbd" stroke-width="0.9"/><ellipse cx="1663.3" cy="929.3" rx="8.5" ry="6.7" fill="#ffffff" stroke="#bdbdbd" stroke-width="0.9"/></g>
<g><polygon points="891.6,788.5 1432.5,1090.8 1432.5,1102.8 891.6,800.3" fill="url(#gBarS)" /><line x1="891.6" y1="800.7" x2="1432.5" y2="1103.3" stroke="#8c8c8c" stroke-width="1.30" opacity="0.8"/><polygon points="891.6,788.5 1432.5,1090.8 1453.2,1074.2 913.0,772.9" fill="url(#gBar)" /><polygon points="913.0,772.9 1453.2,1074.2 1462.3,1066.9 922.4,766.1" fill="#f0f0f0" /><polygon points="922.4,766.1 1462.3,1066.9 1481.6,1051.4 942.3,751.5" fill="url(#gBar)" /><line x1="894.5" y1="786.4" x2="1435.4" y2="1088.5" stroke="#ededed" stroke-width="1.60" opacity="0.8"/><line x1="897.0" y1="784.6" x2="1437.7" y2="1086.6" stroke="url(#gGrv)" stroke-width="1.20" /><line x1="899.9" y1="782.5" x2="1440.6" y2="1084.3" stroke="#ededed" stroke-width="1.60" opacity="0.8"/><line x1="902.3" y1="780.7" x2="1442.9" y2="1082.5" stroke="url(#gGrv)" stroke-width="1.20" /><line x1="905.3" y1="778.5" x2="1445.7" y2="1080.2" stroke="#ededed" stroke-width="1.60" opacity="0.8"/><line x1="907.7" y1="776.8" x2="1448.1" y2="1078.3" stroke="url(#gGrv)" stroke-width="1.20" /><line x1="910.6" y1="774.7" x2="1450.9" y2="1076.0" stroke="#ededed" stroke-width="1.60" opacity="0.8"/><line x1="925.1" y1="764.1" x2="1464.9" y2="1064.8" stroke="#ededed" stroke-width="1.60" opacity="0.8"/><line x1="927.4" y1="762.4" x2="1467.1" y2="1063.0" stroke="url(#gGrv)" stroke-width="1.20" /><line x1="930.1" y1="760.4" x2="1469.8" y2="1060.9" stroke="#ededed" stroke-width="1.60" opacity="0.8"/><line x1="932.4" y1="758.8" x2="1471.9" y2="1059.2" stroke="url(#gGrv)" stroke-width="1.20" /><line x1="935.1" y1="756.8" x2="1474.6" y2="1057.0" stroke="#ededed" stroke-width="1.60" opacity="0.8"/><line x1="937.3" y1="755.2" x2="1476.8" y2="1055.3" stroke="url(#gGrv)" stroke-width="1.20" /><line x1="940.1" y1="753.2" x2="1479.4" y2="1053.2" stroke="#ededed" stroke-width="1.60" opacity="0.8"/><line x1="942.3" y1="751.5" x2="1481.6" y2="1051.4" stroke="#a9a9a9" stroke-width="1.40" /><line x1="891.6" y1="788.5" x2="1432.5" y2="1090.8" stroke="#dedede" stroke-width="1.40" /><line x1="913.0" y1="772.9" x2="1453.2" y2="1074.2" stroke="#b0b0b0" stroke-width="1.30" /><line x1="922.4" y1="766.1" x2="1462.3" y2="1066.9" stroke="#b8b8b8" stroke-width="1.30" /><line x1="916.0" y1="770.7" x2="1456.1" y2="1071.9" stroke="#ffffff" stroke-width="1.80" opacity="0.9"/><line x1="891.6" y1="794.4" x2="913.0" y2="772.9" stroke="#b2b2b2" stroke-width="3.00" stroke-linecap="round"/><line x1="922.4" y1="768.4" x2="942.3" y2="751.5" stroke="#b8b8b8" stroke-width="2.50" stroke-linecap="round"/><polygon points="1432.5,1102.8 1481.6,1061.0 1481.6,1051.4 1432.5,1090.8" fill="#bdbdbd" /><ellipse cx="1438.6" cy="1095.6" rx="8.3" ry="6.5" fill="#f4f4f4" stroke="#a8a8a8" stroke-width="0.9"/><ellipse cx="1446.3" cy="1089.4" rx="8.5" ry="6.8" fill="#f4f4f4" stroke="#a8a8a8" stroke-width="0.9"/><ellipse cx="1454.0" cy="1083.2" rx="8.6" ry="6.8" fill="#f4f4f4" stroke="#a8a8a8" stroke-width="0.9"/><ellipse cx="1461.6" cy="1077.0" rx="9.0" ry="7.1" fill="#f4f4f4" stroke="#a8a8a8" stroke-width="0.9"/><ellipse cx="1469.3" cy="1070.9" rx="8.5" ry="6.7" fill="#f4f4f4" stroke="#a8a8a8" stroke-width="0.9"/><ellipse cx="1476.9" cy="1064.8" rx="8.9" ry="7.0" fill="#f4f4f4" stroke="#a8a8a8" stroke-width="0.9"/><ellipse cx="1449.0" cy="1101.9" rx="6.9" ry="5.5" fill="#ffffff" stroke="#bdbdbd" stroke-width="0.9"/><ellipse cx="1456.7" cy="1095.7" rx="7.9" ry="6.3" fill="#ffffff" stroke="#bdbdbd" stroke-width="0.9"/><ellipse cx="1464.4" cy="1089.6" rx="9.0" ry="7.1" fill="#ffffff" stroke="#bdbdbd" stroke-width="0.9"/><ellipse cx="1472.0" cy="1083.4" rx="8.3" ry="6.6" fill="#ffffff" stroke="#bdbdbd" stroke-width="0.9"/><ellipse cx="1479.7" cy="1077.2" rx="8.9" ry="7.0" fill="#ffffff" stroke="#bdbdbd" stroke-width="0.9"/><ellipse cx="1487.3" cy="1071.1" rx="7.1" ry="5.6" fill="#ffffff" stroke="#bdbdbd" stroke-width="0.9"/></g>
<g><polygon points="700.5,927.8 1247.7,1239.2 1247.7,1251.4 700.5,939.8" fill="url(#gBarS)" /><line x1="700.5" y1="940.2" x2="1247.7" y2="1251.9" stroke="#8c8c8c" stroke-width="1.30" opacity="0.8"/><polygon points="700.5,927.8 1247.7,1239.2 1269.2,1221.9 722.7,911.5" fill="url(#gBar)" /><polygon points="722.7,911.5 1269.2,1221.9 1278.6,1214.3 732.4,904.5" fill="#f0f0f0" /><polygon points="732.4,904.5 1278.6,1214.3 1298.7,1198.2 753.2,889.4" fill="url(#gBar)" /><line x1="703.6" y1="925.5" x2="1250.7" y2="1236.8" stroke="#ededed" stroke-width="1.60" opacity="0.8"/><line x1="706.1" y1="923.7" x2="1253.1" y2="1234.8" stroke="url(#gGrv)" stroke-width="1.20" /><line x1="709.1" y1="921.5" x2="1256.1" y2="1232.4" stroke="#ededed" stroke-width="1.60" opacity="0.8"/><line x1="711.6" y1="919.6" x2="1258.5" y2="1230.5" stroke="url(#gGrv)" stroke-width="1.20" /><line x1="714.7" y1="917.4" x2="1261.4" y2="1228.1" stroke="#ededed" stroke-width="1.60" opacity="0.8"/><line x1="717.2" y1="915.6" x2="1263.9" y2="1226.2" stroke="url(#gGrv)" stroke-width="1.20" /><line x1="720.2" y1="913.4" x2="1266.8" y2="1223.8" stroke="#ededed" stroke-width="1.60" opacity="0.8"/><line x1="735.3" y1="902.4" x2="1281.4" y2="1212.1" stroke="#ededed" stroke-width="1.60" opacity="0.8"/><line x1="737.6" y1="900.7" x2="1283.6" y2="1210.3" stroke="url(#gGrv)" stroke-width="1.20" /><line x1="740.5" y1="898.6" x2="1286.4" y2="1208.1" stroke="#ededed" stroke-width="1.60" opacity="0.8"/><line x1="742.8" y1="896.9" x2="1288.7" y2="1206.3" stroke="url(#gGrv)" stroke-width="1.20" /><line x1="745.7" y1="894.8" x2="1291.4" y2="1204.1" stroke="#ededed" stroke-width="1.60" opacity="0.8"/><line x1="748.0" y1="893.1" x2="1293.7" y2="1202.2" stroke="url(#gGrv)" stroke-width="1.20" /><line x1="750.9" y1="891.1" x2="1296.4" y2="1200.0" stroke="#ededed" stroke-width="1.60" opacity="0.8"/><line x1="753.2" y1="889.4" x2="1298.7" y2="1198.2" stroke="#a9a9a9" stroke-width="1.40" /><line x1="700.5" y1="927.8" x2="1247.7" y2="1239.2" stroke="#dedede" stroke-width="1.40" /><line x1="722.7" y1="911.5" x2="1269.2" y2="1221.9" stroke="#b0b0b0" stroke-width="1.30" /><line x1="732.4" y1="904.5" x2="1278.6" y2="1214.3" stroke="#b8b8b8" stroke-width="1.30" /><line x1="725.9" y1="909.3" x2="1272.2" y2="1219.5" stroke="#ffffff" stroke-width="1.80" opacity="0.9"/><line x1="700.5" y1="933.8" x2="722.7" y2="911.5" stroke="#b2b2b2" stroke-width="3.00" stroke-linecap="round"/><line x1="732.4" y1="906.9" x2="753.2" y2="889.4" stroke="#b8b8b8" stroke-width="2.50" stroke-linecap="round"/><polygon points="1247.7,1251.4 1298.7,1208.0 1298.7,1198.2 1247.7,1239.2" fill="#bdbdbd" /><ellipse cx="1253.9" cy="1244.0" rx="7.6" ry="6.0" fill="#f4f4f4" stroke="#a8a8a8" stroke-width="0.9"/><ellipse cx="1261.9" cy="1237.5" rx="7.2" ry="5.7" fill="#f4f4f4" stroke="#a8a8a8" stroke-width="0.9"/><ellipse cx="1269.9" cy="1231.1" rx="7.9" ry="6.3" fill="#f4f4f4" stroke="#a8a8a8" stroke-width="0.9"/><ellipse cx="1277.9" cy="1224.7" rx="7.4" ry="5.8" fill="#f4f4f4" stroke="#a8a8a8" stroke-width="0.9"/><ellipse cx="1285.8" cy="1218.3" rx="7.1" ry="5.7" fill="#f4f4f4" stroke="#a8a8a8" stroke-width="0.9"/><ellipse cx="1293.8" cy="1211.9" rx="7.9" ry="6.3" fill="#f4f4f4" stroke="#a8a8a8" stroke-width="0.9"/><ellipse cx="1264.6" cy="1250.5" rx="9.1" ry="7.2" fill="#ffffff" stroke="#bdbdbd" stroke-width="0.9"/><ellipse cx="1272.6" cy="1244.0" rx="8.8" ry="7.0" fill="#ffffff" stroke="#bdbdbd" stroke-width="0.9"/><ellipse cx="1280.5" cy="1237.6" rx="8.7" ry="6.9" fill="#ffffff" stroke="#bdbdbd" stroke-width="0.9"/><ellipse cx="1288.5" cy="1231.2" rx="7.5" ry="5.9" fill="#ffffff" stroke="#bdbdbd" stroke-width="0.9"/><ellipse cx="1296.4" cy="1224.8" rx="8.2" ry="6.5" fill="#ffffff" stroke="#bdbdbd" stroke-width="0.9"/><ellipse cx="1304.4" cy="1218.4" rx="7.6" ry="6.0" fill="#ffffff" stroke="#bdbdbd" stroke-width="0.9"/></g>
<g><polygon points="501.9,1072.5 1055.5,1393.5 1055.5,1406.0 501.9,1084.7" fill="url(#gBarS)" /><line x1="501.9" y1="1085.2" x2="1055.5" y2="1406.5" stroke="#8c8c8c" stroke-width="1.30" opacity="0.8"/><polygon points="501.9,1072.5 1055.5,1393.5 1077.9,1375.5 525.0,1055.6" fill="url(#gBar)" /><polygon points="525.0,1055.6 1077.9,1375.5 1087.6,1367.6 535.1,1048.3" fill="#f0f0f0" /><polygon points="535.1,1048.3 1087.6,1367.6 1108.5,1350.9 556.7,1032.6" fill="url(#gBar)" /><line x1="505.1" y1="1070.2" x2="1058.6" y2="1391.0" stroke="#ededed" stroke-width="1.60" opacity="0.8"/><line x1="507.7" y1="1068.3" x2="1061.1" y2="1389.0" stroke="url(#gGrv)" stroke-width="1.20" /><line x1="510.9" y1="1065.9" x2="1064.2" y2="1386.5" stroke="#ededed" stroke-width="1.60" opacity="0.8"/><line x1="513.5" y1="1064.0" x2="1066.7" y2="1384.5" stroke="url(#gGrv)" stroke-width="1.20" /><line x1="516.7" y1="1061.7" x2="1069.8" y2="1382.0" stroke="#ededed" stroke-width="1.60" opacity="0.8"/><line x1="519.3" y1="1059.8" x2="1072.3" y2="1380.0" stroke="url(#gGrv)" stroke-width="1.20" /><line x1="522.4" y1="1057.5" x2="1075.4" y2="1377.5" stroke="#ededed" stroke-width="1.60" opacity="0.8"/><line x1="538.1" y1="1046.1" x2="1090.5" y2="1365.3" stroke="#ededed" stroke-width="1.60" opacity="0.8"/><line x1="540.5" y1="1044.3" x2="1092.9" y2="1363.5" stroke="url(#gGrv)" stroke-width="1.20" /><line x1="543.5" y1="1042.2" x2="1095.7" y2="1361.1" stroke="#ededed" stroke-width="1.60" opacity="0.8"/><line x1="545.9" y1="1040.4" x2="1098.1" y2="1359.3" stroke="url(#gGrv)" stroke-width="1.20" /><line x1="548.9" y1="1038.2" x2="1101.0" y2="1357.0" stroke="#ededed" stroke-width="1.60" opacity="0.8"/><line x1="551.3" y1="1036.5" x2="1103.3" y2="1355.1" stroke="url(#gGrv)" stroke-width="1.20" /><line x1="554.3" y1="1034.3" x2="1106.2" y2="1352.8" stroke="#ededed" stroke-width="1.60" opacity="0.8"/><line x1="556.7" y1="1032.6" x2="1108.5" y2="1350.9" stroke="#a9a9a9" stroke-width="1.40" /><line x1="501.9" y1="1072.5" x2="1055.5" y2="1393.5" stroke="#dedede" stroke-width="1.40" /><line x1="525.0" y1="1055.6" x2="1077.9" y2="1375.5" stroke="#b0b0b0" stroke-width="1.30" /><line x1="535.1" y1="1048.3" x2="1087.6" y2="1367.6" stroke="#b8b8b8" stroke-width="1.30" /><line x1="528.3" y1="1053.3" x2="1081.0" y2="1373.0" stroke="#ffffff" stroke-width="1.80" opacity="0.9"/><line x1="501.9" y1="1078.6" x2="525.0" y2="1055.6" stroke="#b2b2b2" stroke-width="3.00" stroke-linecap="round"/><line x1="535.1" y1="1050.7" x2="556.7" y2="1032.6" stroke="#b8b8b8" stroke-width="2.50" stroke-linecap="round"/><polygon points="1055.5,1406.0 1108.5,1360.8 1108.5,1350.9 1055.5,1393.5" fill="#bdbdbd" /><ellipse cx="1061.9" cy="1398.3" rx="7.7" ry="6.1" fill="#f4f4f4" stroke="#a8a8a8" stroke-width="0.9"/><ellipse cx="1070.2" cy="1391.6" rx="8.4" ry="6.7" fill="#f4f4f4" stroke="#a8a8a8" stroke-width="0.9"/><ellipse cx="1078.5" cy="1385.0" rx="8.0" ry="6.3" fill="#f4f4f4" stroke="#a8a8a8" stroke-width="0.9"/><ellipse cx="1086.8" cy="1378.3" rx="8.5" ry="6.8" fill="#f4f4f4" stroke="#a8a8a8" stroke-width="0.9"/><ellipse cx="1095.1" cy="1371.6" rx="8.6" ry="6.8" fill="#f4f4f4" stroke="#a8a8a8" stroke-width="0.9"/><ellipse cx="1103.4" cy="1365.0" rx="7.3" ry="5.8" fill="#f4f4f4" stroke="#a8a8a8" stroke-width="0.9"/><ellipse cx="1072.8" cy="1405.0" rx="7.2" ry="5.7" fill="#ffffff" stroke="#bdbdbd" stroke-width="0.9"/><ellipse cx="1081.1" cy="1398.3" rx="9.1" ry="7.2" fill="#ffffff" stroke="#bdbdbd" stroke-width="0.9"/><ellipse cx="1089.4" cy="1391.6" rx="7.7" ry="6.1" fill="#ffffff" stroke="#bdbdbd" stroke-width="0.9"/><ellipse cx="1097.6" cy="1384.9" rx="7.7" ry="6.1" fill="#ffffff" stroke="#bdbdbd" stroke-width="0.9"/><ellipse cx="1105.9" cy="1378.3" rx="9.4" ry="7.5" fill="#ffffff" stroke="#bdbdbd" stroke-width="0.9"/><ellipse cx="1114.2" cy="1371.6" rx="8.2" ry="6.5" fill="#ffffff" stroke="#bdbdbd" stroke-width="0.9"/></g>
<g><polygon points="295.4,1223.0 855.4,1554.1 855.4,1566.9 295.4,1235.4" fill="url(#gBarS)" /><line x1="295.4" y1="1235.9" x2="855.4" y2="1567.4" stroke="#8c8c8c" stroke-width="1.30" opacity="0.8"/><polygon points="295.4,1223.0 855.4,1554.1 878.7,1535.4 319.5,1205.4" fill="url(#gBar)" /><polygon points="319.5,1205.4 878.7,1535.4 888.9,1527.2 329.9,1197.8" fill="#f0f0f0" /><polygon points="329.9,1197.8 888.9,1527.2 910.6,1509.8 352.4,1181.4" fill="url(#gBar)" /><line x1="298.7" y1="1220.5" x2="858.6" y2="1551.5" stroke="#ededed" stroke-width="1.60" opacity="0.8"/><line x1="301.4" y1="1218.6" x2="861.2" y2="1549.4" stroke="url(#gGrv)" stroke-width="1.20" /><line x1="304.7" y1="1216.2" x2="864.4" y2="1546.8" stroke="#ededed" stroke-width="1.60" opacity="0.8"/><line x1="307.4" y1="1214.2" x2="867.1" y2="1544.7" stroke="url(#gGrv)" stroke-width="1.20" /><line x1="310.7" y1="1211.8" x2="870.3" y2="1542.1" stroke="#ededed" stroke-width="1.60" opacity="0.8"/><line x1="313.4" y1="1209.8" x2="872.9" y2="1540.0" stroke="url(#gGrv)" stroke-width="1.20" /><line x1="316.8" y1="1207.4" x2="876.1" y2="1537.5" stroke="#ededed" stroke-width="1.60" opacity="0.8"/><line x1="333.0" y1="1195.5" x2="891.9" y2="1524.8" stroke="#ededed" stroke-width="1.60" opacity="0.8"/><line x1="335.6" y1="1193.7" x2="894.3" y2="1522.8" stroke="url(#gGrv)" stroke-width="1.20" /><line x1="338.6" y1="1191.4" x2="897.3" y2="1520.4" stroke="#ededed" stroke-width="1.60" opacity="0.8"/><line x1="341.2" y1="1189.6" x2="899.8" y2="1518.5" stroke="url(#gGrv)" stroke-width="1.20" /><line x1="344.3" y1="1187.4" x2="902.7" y2="1516.1" stroke="#ededed" stroke-width="1.60" opacity="0.8"/><line x1="346.8" y1="1185.5" x2="905.2" y2="1514.1" stroke="url(#gGrv)" stroke-width="1.20" /><line x1="349.9" y1="1183.3" x2="908.2" y2="1511.7" stroke="#ededed" stroke-width="1.60" opacity="0.8"/><line x1="352.4" y1="1181.4" x2="910.6" y2="1509.8" stroke="#a9a9a9" stroke-width="1.40" /><line x1="295.4" y1="1223.0" x2="855.4" y2="1554.1" stroke="#dedede" stroke-width="1.40" /><line x1="319.5" y1="1205.4" x2="878.7" y2="1535.4" stroke="#b0b0b0" stroke-width="1.30" /><line x1="329.9" y1="1197.8" x2="888.9" y2="1527.2" stroke="#b8b8b8" stroke-width="1.30" /><line x1="322.8" y1="1203.0" x2="882.0" y2="1532.8" stroke="#ffffff" stroke-width="1.80" opacity="0.9"/><line x1="295.4" y1="1229.2" x2="319.5" y2="1205.4" stroke="#b2b2b2" stroke-width="3.00" stroke-linecap="round"/><line x1="329.9" y1="1200.3" x2="352.4" y2="1181.4" stroke="#b8b8b8" stroke-width="2.50" stroke-linecap="round"/><polygon points="855.4,1566.9 910.6,1519.9 910.6,1509.8 855.4,1554.1" fill="#bdbdbd" /><ellipse cx="862.0" cy="1559.0" rx="9.6" ry="7.6" fill="#f4f4f4" stroke="#a8a8a8" stroke-width="0.9"/><ellipse cx="870.7" cy="1552.0" rx="9.5" ry="7.5" fill="#f4f4f4" stroke="#a8a8a8" stroke-width="0.9"/><ellipse cx="879.3" cy="1545.1" rx="7.4" ry="5.9" fill="#f4f4f4" stroke="#a8a8a8" stroke-width="0.9"/><ellipse cx="888.0" cy="1538.1" rx="7.5" ry="5.9" fill="#f4f4f4" stroke="#a8a8a8" stroke-width="0.9"/><ellipse cx="896.6" cy="1531.2" rx="9.2" ry="7.3" fill="#f4f4f4" stroke="#a8a8a8" stroke-width="0.9"/><ellipse cx="905.2" cy="1524.3" rx="9.0" ry="7.1" fill="#f4f4f4" stroke="#a8a8a8" stroke-width="0.9"/><ellipse cx="873.1" cy="1565.8" rx="8.9" ry="7.0" fill="#ffffff" stroke="#bdbdbd" stroke-width="0.9"/><ellipse cx="881.7" cy="1558.8" rx="8.0" ry="6.4" fill="#ffffff" stroke="#bdbdbd" stroke-width="0.9"/><ellipse cx="890.4" cy="1551.8" rx="8.7" ry="6.9" fill="#ffffff" stroke="#bdbdbd" stroke-width="0.9"/><ellipse cx="899.0" cy="1544.9" rx="8.7" ry="6.9" fill="#ffffff" stroke="#bdbdbd" stroke-width="0.9"/><ellipse cx="907.6" cy="1538.0" rx="8.6" ry="6.8" fill="#ffffff" stroke="#bdbdbd" stroke-width="0.9"/><ellipse cx="916.2" cy="1531.0" rx="7.6" ry="6.1" fill="#ffffff" stroke="#bdbdbd" stroke-width="0.9"/></g>
<g><polygon points="80.4,1379.6 646.9,1721.4 646.9,1734.5 80.4,1392.3" fill="url(#gBarS)" /><line x1="80.4" y1="1392.8" x2="646.9" y2="1735.0" stroke="#8c8c8c" stroke-width="1.30" opacity="0.8"/><polygon points="80.4,1379.6 646.9,1721.4 671.2,1701.9 105.5,1361.3" fill="url(#gBar)" /><polygon points="105.5,1361.3 671.2,1701.9 681.8,1693.4 116.4,1353.4" fill="#f0f0f0" /><polygon points="116.4,1353.4 681.8,1693.4 704.5,1675.2 139.8,1336.4" fill="url(#gBar)" /><line x1="83.9" y1="1377.1" x2="650.3" y2="1718.7" stroke="#ededed" stroke-width="1.60" opacity="0.8"/><line x1="86.7" y1="1375.0" x2="653.0" y2="1716.5" stroke="url(#gGrv)" stroke-width="1.20" /><line x1="90.2" y1="1372.5" x2="656.4" y2="1713.8" stroke="#ededed" stroke-width="1.60" opacity="0.8"/><line x1="93.0" y1="1370.5" x2="659.1" y2="1711.6" stroke="url(#gGrv)" stroke-width="1.20" /><line x1="96.4" y1="1367.9" x2="662.5" y2="1709.0" stroke="#ededed" stroke-width="1.60" opacity="0.8"/><line x1="99.2" y1="1365.9" x2="665.2" y2="1706.8" stroke="url(#gGrv)" stroke-width="1.20" /><line x1="102.7" y1="1363.4" x2="668.5" y2="1704.1" stroke="#ededed" stroke-width="1.60" opacity="0.8"/><line x1="119.6" y1="1351.0" x2="685.0" y2="1690.9" stroke="#ededed" stroke-width="1.60" opacity="0.8"/><line x1="122.3" y1="1349.1" x2="687.5" y2="1688.8" stroke="url(#gGrv)" stroke-width="1.20" /><line x1="125.5" y1="1346.8" x2="690.6" y2="1686.3" stroke="#ededed" stroke-width="1.60" opacity="0.8"/><line x1="128.1" y1="1344.9" x2="693.2" y2="1684.3" stroke="url(#gGrv)" stroke-width="1.20" /><line x1="131.3" y1="1342.5" x2="696.3" y2="1681.8" stroke="#ededed" stroke-width="1.60" opacity="0.8"/><line x1="133.9" y1="1340.6" x2="698.8" y2="1679.8" stroke="url(#gGrv)" stroke-width="1.20" /><line x1="137.2" y1="1338.3" x2="702.0" y2="1677.3" stroke="#ededed" stroke-width="1.60" opacity="0.8"/><line x1="139.8" y1="1336.4" x2="704.5" y2="1675.2" stroke="#a9a9a9" stroke-width="1.40" /><line x1="80.4" y1="1379.6" x2="646.9" y2="1721.4" stroke="#dedede" stroke-width="1.40" /><line x1="105.5" y1="1361.3" x2="671.2" y2="1701.9" stroke="#b0b0b0" stroke-width="1.30" /><line x1="116.4" y1="1353.4" x2="681.8" y2="1693.4" stroke="#b8b8b8" stroke-width="1.30" /><line x1="109.0" y1="1358.8" x2="674.6" y2="1699.2" stroke="#ffffff" stroke-width="1.80" opacity="0.9"/><line x1="80.4" y1="1386.0" x2="105.5" y2="1361.3" stroke="#b2b2b2" stroke-width="3.00" stroke-linecap="round"/><line x1="116.4" y1="1355.9" x2="139.8" y2="1336.4" stroke="#b8b8b8" stroke-width="2.50" stroke-linecap="round"/><polygon points="646.9,1734.5 704.5,1685.6 704.5,1675.2 646.9,1721.4" fill="#bdbdbd" /><ellipse cx="653.8" cy="1726.4" rx="7.8" ry="6.2" fill="#f4f4f4" stroke="#a8a8a8" stroke-width="0.9"/><ellipse cx="662.8" cy="1719.1" rx="9.5" ry="7.5" fill="#f4f4f4" stroke="#a8a8a8" stroke-width="0.9"/><ellipse cx="671.8" cy="1711.9" rx="9.3" ry="7.3" fill="#f4f4f4" stroke="#a8a8a8" stroke-width="0.9"/><ellipse cx="680.8" cy="1704.6" rx="8.1" ry="6.4" fill="#f4f4f4" stroke="#a8a8a8" stroke-width="0.9"/><ellipse cx="689.8" cy="1697.4" rx="8.6" ry="6.8" fill="#f4f4f4" stroke="#a8a8a8" stroke-width="0.9"/><ellipse cx="698.8" cy="1690.2" rx="8.5" ry="6.7" fill="#f4f4f4" stroke="#a8a8a8" stroke-width="0.9"/><ellipse cx="665.1" cy="1733.3" rx="9.0" ry="7.1" fill="#ffffff" stroke="#bdbdbd" stroke-width="0.9"/><ellipse cx="674.1" cy="1726.0" rx="9.3" ry="7.4" fill="#ffffff" stroke="#bdbdbd" stroke-width="0.9"/><ellipse cx="683.1" cy="1718.8" rx="7.7" ry="6.1" fill="#ffffff" stroke="#bdbdbd" stroke-width="0.9"/><ellipse cx="692.1" cy="1711.5" rx="7.5" ry="5.9" fill="#ffffff" stroke="#bdbdbd" stroke-width="0.9"/><ellipse cx="701.0" cy="1704.3" rx="9.4" ry="7.5" fill="#ffffff" stroke="#bdbdbd" stroke-width="0.9"/><ellipse cx="710.0" cy="1697.1" rx="8.5" ry="6.7" fill="#ffffff" stroke="#bdbdbd" stroke-width="0.9"/></g>
<g><polygon points="-143.4,1542.7 429.6,1895.9 429.6,1909.2 -143.4,1555.7" fill="url(#gBarS)" /><line x1="-143.4" y1="1556.2" x2="429.6" y2="1909.7" stroke="#8c8c8c" stroke-width="1.30" opacity="0.8"/><polygon points="-143.4,1542.7 429.6,1895.9 455.0,1875.5 -117.3,1523.7" fill="url(#gBar)" /><polygon points="-117.3,1523.7 455.0,1875.5 466.0,1866.7 -106.0,1515.4" fill="#f0f0f0" /><polygon points="-106.0,1515.4 466.0,1866.7 489.6,1847.7 -81.6,1497.7" fill="url(#gBar)" /><line x1="-139.8" y1="1540.1" x2="433.1" y2="1893.1" stroke="#ededed" stroke-width="1.60" opacity="0.8"/><line x1="-136.9" y1="1538.0" x2="436.0" y2="1890.8" stroke="url(#gGrv)" stroke-width="1.20" /><line x1="-133.3" y1="1535.4" x2="439.4" y2="1888.0" stroke="#ededed" stroke-width="1.60" opacity="0.8"/><line x1="-130.4" y1="1533.2" x2="442.3" y2="1885.7" stroke="url(#gGrv)" stroke-width="1.20" /><line x1="-126.8" y1="1530.6" x2="445.8" y2="1882.9" stroke="#ededed" stroke-width="1.60" opacity="0.8"/><line x1="-123.8" y1="1528.5" x2="448.6" y2="1880.6" stroke="url(#gGrv)" stroke-width="1.20" /><line x1="-120.3" y1="1525.8" x2="452.1" y2="1877.8" stroke="#ededed" stroke-width="1.60" opacity="0.8"/><line x1="-102.6" y1="1513.0" x2="469.3" y2="1864.0" stroke="#ededed" stroke-width="1.60" opacity="0.8"/><line x1="-99.9" y1="1511.0" x2="471.9" y2="1861.9" stroke="url(#gGrv)" stroke-width="1.20" /><line x1="-96.5" y1="1508.5" x2="475.2" y2="1859.3" stroke="#ededed" stroke-width="1.60" opacity="0.8"/><line x1="-93.8" y1="1506.6" x2="477.8" y2="1857.2" stroke="url(#gGrv)" stroke-width="1.20" /><line x1="-90.4" y1="1504.1" x2="481.1" y2="1854.6" stroke="#ededed" stroke-width="1.60" opacity="0.8"/><line x1="-87.7" y1="1502.1" x2="483.7" y2="1852.4" stroke="url(#gGrv)" stroke-width="1.20" /><line x1="-84.4" y1="1499.7" x2="487.0" y2="1849.8" stroke="#ededed" stroke-width="1.60" opacity="0.8"/><line x1="-81.6" y1="1497.7" x2="489.6" y2="1847.7" stroke="#a9a9a9" stroke-width="1.40" /><line x1="-143.4" y1="1542.7" x2="429.6" y2="1895.9" stroke="#dedede" stroke-width="1.40" /><line x1="-117.3" y1="1523.7" x2="455.0" y2="1875.5" stroke="#b0b0b0" stroke-width="1.30" /><line x1="-106.0" y1="1515.4" x2="466.0" y2="1866.7" stroke="#b8b8b8" stroke-width="1.30" /><line x1="-113.7" y1="1521.1" x2="458.5" y2="1872.7" stroke="#ffffff" stroke-width="1.80" opacity="0.9"/><line x1="-143.4" y1="1549.2" x2="-117.3" y2="1523.7" stroke="#b2b2b2" stroke-width="3.00" stroke-linecap="round"/><line x1="-106.0" y1="1518.0" x2="-81.6" y2="1497.7" stroke="#b8b8b8" stroke-width="2.50" stroke-linecap="round"/><polygon points="429.6,1909.2 489.6,1858.3 489.6,1847.7 429.6,1895.9" fill="#bdbdbd" /><ellipse cx="436.7" cy="1900.9" rx="9.7" ry="7.7" fill="#f4f4f4" stroke="#a8a8a8" stroke-width="0.9"/><ellipse cx="446.1" cy="1893.3" rx="9.5" ry="7.5" fill="#f4f4f4" stroke="#a8a8a8" stroke-width="0.9"/><ellipse cx="455.5" cy="1885.7" rx="8.6" ry="6.8" fill="#f4f4f4" stroke="#a8a8a8" stroke-width="0.9"/><ellipse cx="464.9" cy="1878.2" rx="8.2" ry="6.5" fill="#f4f4f4" stroke="#a8a8a8" stroke-width="0.9"/><ellipse cx="474.2" cy="1870.7" rx="8.8" ry="7.0" fill="#f4f4f4" stroke="#a8a8a8" stroke-width="0.9"/><ellipse cx="483.6" cy="1863.2" rx="8.6" ry="6.8" fill="#f4f4f4" stroke="#a8a8a8" stroke-width="0.9"/><ellipse cx="448.2" cy="1907.9" rx="9.5" ry="7.6" fill="#ffffff" stroke="#bdbdbd" stroke-width="0.9"/><ellipse cx="457.6" cy="1900.4" rx="8.4" ry="6.6" fill="#ffffff" stroke="#bdbdbd" stroke-width="0.9"/><ellipse cx="467.0" cy="1892.8" rx="8.8" ry="6.9" fill="#ffffff" stroke="#bdbdbd" stroke-width="0.9"/><ellipse cx="476.3" cy="1885.3" rx="9.0" ry="7.1" fill="#ffffff" stroke="#bdbdbd" stroke-width="0.9"/><ellipse cx="485.7" cy="1877.7" rx="9.8" ry="7.8" fill="#ffffff" stroke="#bdbdbd" stroke-width="0.9"/><ellipse cx="495.0" cy="1870.2" rx="8.8" ry="7.0" fill="#ffffff" stroke="#bdbdbd" stroke-width="0.9"/></g>
<ellipse cx="711.4" cy="1156.7" rx="40" ry="12" fill="#ffe2a8" filter="url(#b10)" opacity="0.7" transform="rotate(-37 711.4 1156.7)"/>
<ellipse cx="711.4" cy="1156.7" rx="22" ry="4" fill="#ffffff" filter="url(#b3)" opacity="0.8" transform="rotate(-37 711.4 1156.7)"/>
<ellipse cx="906.9" cy="1009.7" rx="52" ry="20" fill="#ffdc98" filter="url(#b10)" opacity="0.8" transform="rotate(-37 906.9 1009.7)"/>
<g filter="url(#b3)" opacity="0.95"><line x1="873.9" y1="1022.6" x2="892.0" y2="1032.9" stroke="#fffbea" stroke-width="2.60" stroke-linecap="round"/><line x1="875.2" y1="1015.6" x2="902.3" y2="1031.1" stroke="#fffbea" stroke-width="2.60" stroke-linecap="round"/><line x1="876.5" y1="1008.7" x2="912.6" y2="1029.3" stroke="#fffbea" stroke-width="2.60" stroke-linecap="round"/><line x1="877.8" y1="1001.8" x2="923.0" y2="1027.5" stroke="#fffbea" stroke-width="2.60" stroke-linecap="round"/><line x1="879.1" y1="994.9" x2="933.3" y2="1025.6" stroke="#fffbea" stroke-width="2.60" stroke-linecap="round"/><line x1="889.4" y1="993.1" x2="934.5" y2="1018.7" stroke="#fffbea" stroke-width="2.60" stroke-linecap="round"/><line x1="899.7" y1="991.3" x2="935.8" y2="1011.8" stroke="#fffbea" stroke-width="2.60" stroke-linecap="round"/><line x1="910.0" y1="989.5" x2="937.0" y2="1004.9" stroke="#fffbea" stroke-width="2.60" stroke-linecap="round"/><line x1="920.2" y1="987.7" x2="938.3" y2="998.0" stroke="#fffbea" stroke-width="2.60" stroke-linecap="round"/></g>
<ellipse cx="906.9" cy="1009.7" rx="26" ry="7" fill="#ffffff" filter="url(#b6)" opacity="0.9" transform="rotate(-37 906.9 1009.7)"/>
<ellipse cx="1095.0" cy="868.2" rx="52" ry="20" fill="#ffdc98" filter="url(#b10)" opacity="0.8" transform="rotate(-37 1095.0 868.2)"/>
<g filter="url(#b3)" opacity="0.95"><line x1="1062.9" y1="880.6" x2="1080.8" y2="890.6" stroke="#fffbea" stroke-width="2.60" stroke-linecap="round"/><line x1="1064.1" y1="873.9" x2="1090.9" y2="888.9" stroke="#fffbea" stroke-width="2.60" stroke-linecap="round"/><line x1="1065.2" y1="867.2" x2="1101.0" y2="887.2" stroke="#fffbea" stroke-width="2.60" stroke-linecap="round"/><line x1="1066.3" y1="860.5" x2="1111.0" y2="885.4" stroke="#fffbea" stroke-width="2.60" stroke-linecap="round"/><line x1="1067.5" y1="853.8" x2="1121.1" y2="883.7" stroke="#fffbea" stroke-width="2.60" stroke-linecap="round"/><line x1="1077.5" y1="852.1" x2="1122.2" y2="877.0" stroke="#fffbea" stroke-width="2.60" stroke-linecap="round"/><line x1="1087.5" y1="850.5" x2="1123.3" y2="870.3" stroke="#fffbea" stroke-width="2.60" stroke-linecap="round"/><line x1="1097.6" y1="848.8" x2="1124.3" y2="863.7" stroke="#fffbea" stroke-width="2.60" stroke-linecap="round"/><line x1="1107.6" y1="847.1" x2="1125.4" y2="857.0" stroke="#fffbea" stroke-width="2.60" stroke-linecap="round"/></g>
<ellipse cx="1095.0" cy="868.2" rx="26" ry="7" fill="#ffffff" filter="url(#b6)" opacity="0.9" transform="rotate(-37 1095.0 868.2)"/>
</svg>
<svg width="1600" height="1600" viewBox="0 0 1600 1600">
<defs>
<clipPath id="cc1"><circle cx="224" cy="458.5" r="172"/></clipPath>
<clipPath id="cc2"><circle cx="636" cy="458.5" r="171.5"/></clipPath>
<linearGradient id="gTubeD" x1="0" y1="0" x2="0" y2="1"><stop offset="0" stop-color="#a3a3a3"/><stop offset="0.12" stop-color="#8f8f8f"/><stop offset="0.5" stop-color="#8a8a8a"/><stop offset="0.88" stop-color="#8e8e8e"/><stop offset="0.93" stop-color="#a8a8a8"/><stop offset="1" stop-color="#9c9c9c"/></linearGradient>
<linearGradient id="gTubeL" x1="0" y1="0" x2="1" y2="0"><stop offset="0" stop-color="#e6e8ec"/><stop offset="0.5" stop-color="#f1f2f5"/><stop offset="1" stop-color="#e4e6ea"/></linearGradient>
<linearGradient id="gBeam" gradientUnits="userSpaceOnUse" x1="490" y1="560" x2="810" y2="440"><stop offset="0" stop-color="#cdced1"/><stop offset="0.45" stop-color="#c9cacd"/><stop offset="1" stop-color="#d6d7da"/></linearGradient>
<radialGradient id="gC1" cx="0.5" cy="0.5" r="0.5"><stop offset="0.7" stop-color="#f3f4f7"/><stop offset="1" stop-color="#e9ebef"/></radialGradient>
</defs>
<g clip-path="url(#cc1)">
<rect x="50" y="285" width="350" height="350" fill="url(#gC1)"/>
<rect x="150" y="290" width="152" height="14" fill="#b9b9b9"/>
<polygon points="100,310 122,310 122,362 99,362" fill="#e2e4e8"/>
<polygon points="328,310 345,322 348,362 330,362" fill="#dfe1e5"/>
<polygon points="120,300 331,300 331,362 120,362" fill="#ffffff"/>
<polygon points="100,362 346,362 346,407 99,407" fill="url(#gTubeL)"/>
<polygon points="99,406 346,406 356,516 89,516" fill="url(#gTubeD)"/>
<g stroke="#7f7f7f" stroke-width="1" opacity="0.45"><line x1="97" y1="430" x2="348" y2="430"/><line x1="95" y1="446" x2="350" y2="446"/><line x1="94" y1="462" x2="351" y2="462"/><line x1="93" y1="478" x2="353" y2="478"/><line x1="92" y1="492" x2="354" y2="492"/></g>
<g stroke="#a5a5a5" stroke-width="1" opacity="0.5"><line x1="97" y1="438" x2="348" y2="438"/><line x1="95" y1="454" x2="350" y2="454"/><line x1="94" y1="470" x2="351" y2="470"/></g>
<polygon points="89,516 99,516 97,560 80,620 70,620" fill="#e0e2e6"/>
<polygon points="346,516 356,516 372,620 362,620 352,560" fill="#dcdee2"/>
<polygon points="99,516 346,516 350,604 97,604" fill="#ffffff"/>
<polygon points="97,604 350,604 352,640 95,640" fill="#e8eaee"/>
</g>
<g clip-path="url(#cc2)">
<rect x="460" y="285" width="352" height="350" fill="#f3f4f7"/>
<polygon points="460,285 812,285 812,421 490,542 460,560" fill="#fafafb"/>
<polygon points="512,336 548,316 575,301 655,286 655,289 584,318 521,348" fill="#c3c4c8"/>
<polygon points="548,316 575,301 584,318 556,331" fill="#d9dadd"/>
<polygon points="490,542 812,421 815,486 545,601" fill="url(#gBeam)"/>
<line x1="490" y1="542" x2="812" y2="421" stroke="#ffffff" stroke-width="2"/>
<polygon points="545,601 815,486 815,640 560,640" fill="#f6f7f9"/>
<g stroke="#ffffff" stroke-width="5.5" fill="none" stroke-linecap="round" opacity="0.9">
<line x1="590" y1="502" x2="618" y2="490.5"/><line x1="622" y1="572" x2="650" y2="560"/><line x1="604" y1="497" x2="636.5" y2="565.5"/></g>
<g stroke="#ee6a2a" stroke-width="2.6" fill="none" stroke-linecap="round">
<line x1="590" y1="502" x2="618" y2="490.5"/>
<line x1="622" y1="572" x2="650" y2="560"/>
<line x1="604" y1="497" x2="636.5" y2="565.5" stroke-dasharray="6.5 4.5" stroke-width="2.4" stroke-linecap="butt"/>
</g>

</g>

<line x1="363.5" y1="994" x2="363.5" y2="1222" stroke="#e8641e" stroke-width="2.4" stroke-dasharray="9 6"/>
<circle cx="363" cy="1229" r="5.5" fill="#fff" stroke="#e8641e" stroke-width="2.6"/>
</svg>
<div class="t" id="title"><span style="letter-spacing:6.75px">THICKENED</span> <span style="letter-spacing:0.2px;margin-left:-4.8px">ALL</span> <span style="letter-spacing:10.4px">ALUMINUM</span> <span style="letter-spacing:3.25px;margin-left:-8.7px">ALLOY</span> <span style="letter-spacing:6.4px;margin-left:-1.6px">STRUCTURE</span></div>
<div class="t" id="sub">Perfect combination of quality and stability</div>
<div class="t lab" style="left:24px;width:400px;top:654px;"><span class="o">2</span> Reinforced Connecting<br>Transverse Tubes</div>
<div class="t lab" style="left:436px;width:400px;top:654px;"><span class="o">3" / 75 mm</span><br>Main Beam</div>
<div class="t" id="dim">3" / 75 mm</div>
<div id="box"></div>
<div class="t" id="n18">18</div>
<div id="foot" style="position:absolute;left:139px;top:958px;width:14.5px;height:18px;background:#fff"></div>
<div class="t" id="b18">Boards Evenly<br>Distribute Weight</div>
</body></html>
